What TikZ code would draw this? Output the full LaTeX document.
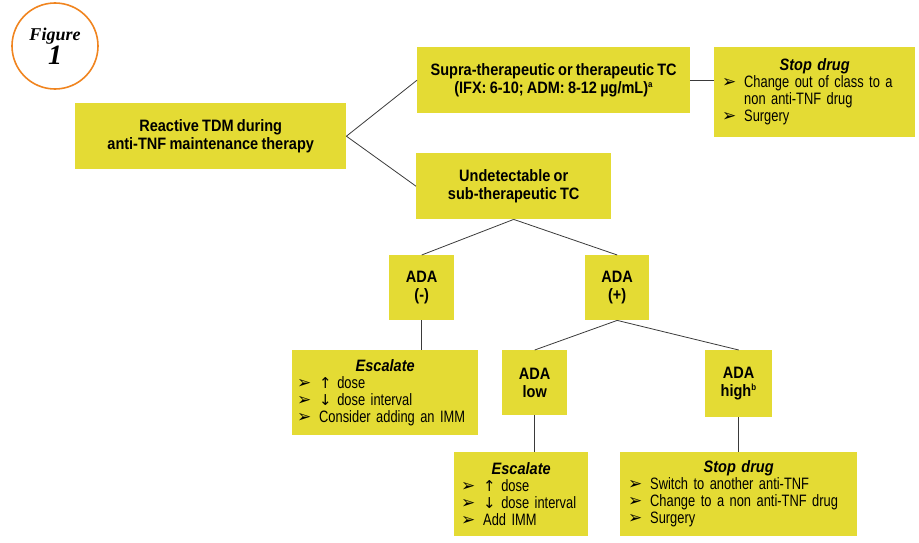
\documentclass[tikz,border=0pt]{standalone}
\usepackage{fontspec}
\setmainfont{Liberation Sans}[FakeStretch=0.78, WordSpace={0.8}, BoldFeatures={FakeStretch=0.88}, BoldItalicFeatures={FakeStretch=0.88}]
\newfontfamily\dingf{DejaVu Sans}
\newfontfamily\figf{Liberation Serif}
\definecolor{boxyellow}{HTML}{E4DB34}
\definecolor{figorange}{HTML}{F0841F}
\definecolor{linegray}{HTML}{3A3A3A}
\newcommand\itm[1]{\mbox{\makebox[22pt][l]{\dingf\fontsize{17}{17}\selectfont\char"27A2}#1}}
\newcommand\cont[1]{\mbox{\hspace*{22pt}#1}}
\newcommand\upar{{\dingf\fontsize{15}{15}\selectfont\char"2191}}
\newcommand\dnar{{\dingf\fontsize{15}{15}\selectfont\char"2193}}
\newcommand\supx[1]{\textsuperscript{\fontsize{9}{9}\selectfont #1}}
\tikzset{
  box/.style={fill=boxyellow, inner sep=0pt, anchor=north west, font=\fontsize{16.5}{18}\selectfont\bfseries, align=center},
  listbox/.style={fill=boxyellow, inner ysep=0pt, anchor=north west, font=\fontsize{16.5}{17}\selectfont, align=left},
  conn/.style={draw=linegray, line width=0.8pt}
}
\begin{document}
\begin{tikzpicture}[x=1pt,y=-1pt]
\useasboundingbox (0,0) rectangle (919,543);
% figure label
\node[draw=figorange, line width=1.6pt, circle, minimum size=86pt, inner sep=0pt, align=center,
  font=\figf\fontsize{18}{20}\selectfont\bfseries\itshape] (fig) at (55,46) {Figure\\[1pt]{\fontsize{28}{24}\selectfont 1}};
% boxes
\node[box, minimum width=271pt, minimum height=66pt] (b1) at (75,103) {Reactive TDM during\\anti-TNF maintenance therapy};
\node[box, minimum width=273pt, minimum height=66pt] (b2) at (417,47) {Supra-therapeutic or therapeutic TC\\(IFX: 6-10; ADM: 8-12 µg/mL)\supx{a}};
\node[listbox, minimum width=201pt, minimum height=90pt, inner xsep=8pt, text width=185pt] (b3) at (714,47) {\makebox[185pt]{\bfseries\itshape Stop drug}\\
\itm{Change out of class to a}\\\cont{non anti-TNF drug}\\\itm{Surgery}};
\node[box, minimum width=195pt, minimum height=66pt] (b4) at (416,153) {Undetectable or\\sub-therapeutic TC};
\node[box, minimum width=65pt, minimum height=65pt] (b5) at (389,255) {ADA\\(-)};
\node[box, minimum width=64pt, minimum height=65pt] (b6) at (585,255) {ADA\\(+)};
\node[listbox, minimum width=186pt, minimum height=85pt, text width=176pt, inner xsep=5pt] (b7) at (292,350) {\makebox[176pt]{\bfseries\itshape Escalate}\\
\itm{\upar{} dose}\\\itm{\dnar{} dose interval}\\\itm{Consider adding an IMM}};
\node[box, minimum width=65pt, minimum height=65pt] (b8) at (502,350) {ADA\\low};
\node[box, minimum width=67pt, minimum height=67pt] (b9) at (705,350) {ADA\\high\supx{b}};
\node[listbox, minimum width=134pt, minimum height=84pt, text width=120pt, inner xsep=7pt] (b10) at (454,452) {\makebox[120pt]{\bfseries\itshape Escalate}\\
\itm{\upar{} dose}\\\itm{\dnar{} dose interval}\\\itm{Add IMM}};
\node[listbox, minimum width=237pt, minimum height=84pt, text width=221pt, inner xsep=8pt] (b11) at (620,452) {\makebox[221pt]{\bfseries\itshape Stop drug}\\
\itm{Switch to another anti-TNF}\\\itm{Change to a non anti-TNF drug}\\\itm{Surgery}};
% connectors
\draw[conn] (b1.east) -- (b2.west);
\draw[conn] (b1.east) -- (b4.west);
\draw[conn] (b2.east) -- (b3.west |- b2.east);
\draw[conn] (b4.south) -- (b5.north);
\draw[conn] (b4.south) -- (b6.north);
\draw[conn] (b5.south) -- (b7.north -| b5.south);
\draw[conn] (b6.south) -- (b8.north);
\draw[conn] (b6.south) -- (b9.north);
\draw[conn] (b8.south) -- (b10.north -| b8.south);
\draw[conn] (b9.south) -- (b11.north -| b9.south);
\end{tikzpicture}
\end{document}
